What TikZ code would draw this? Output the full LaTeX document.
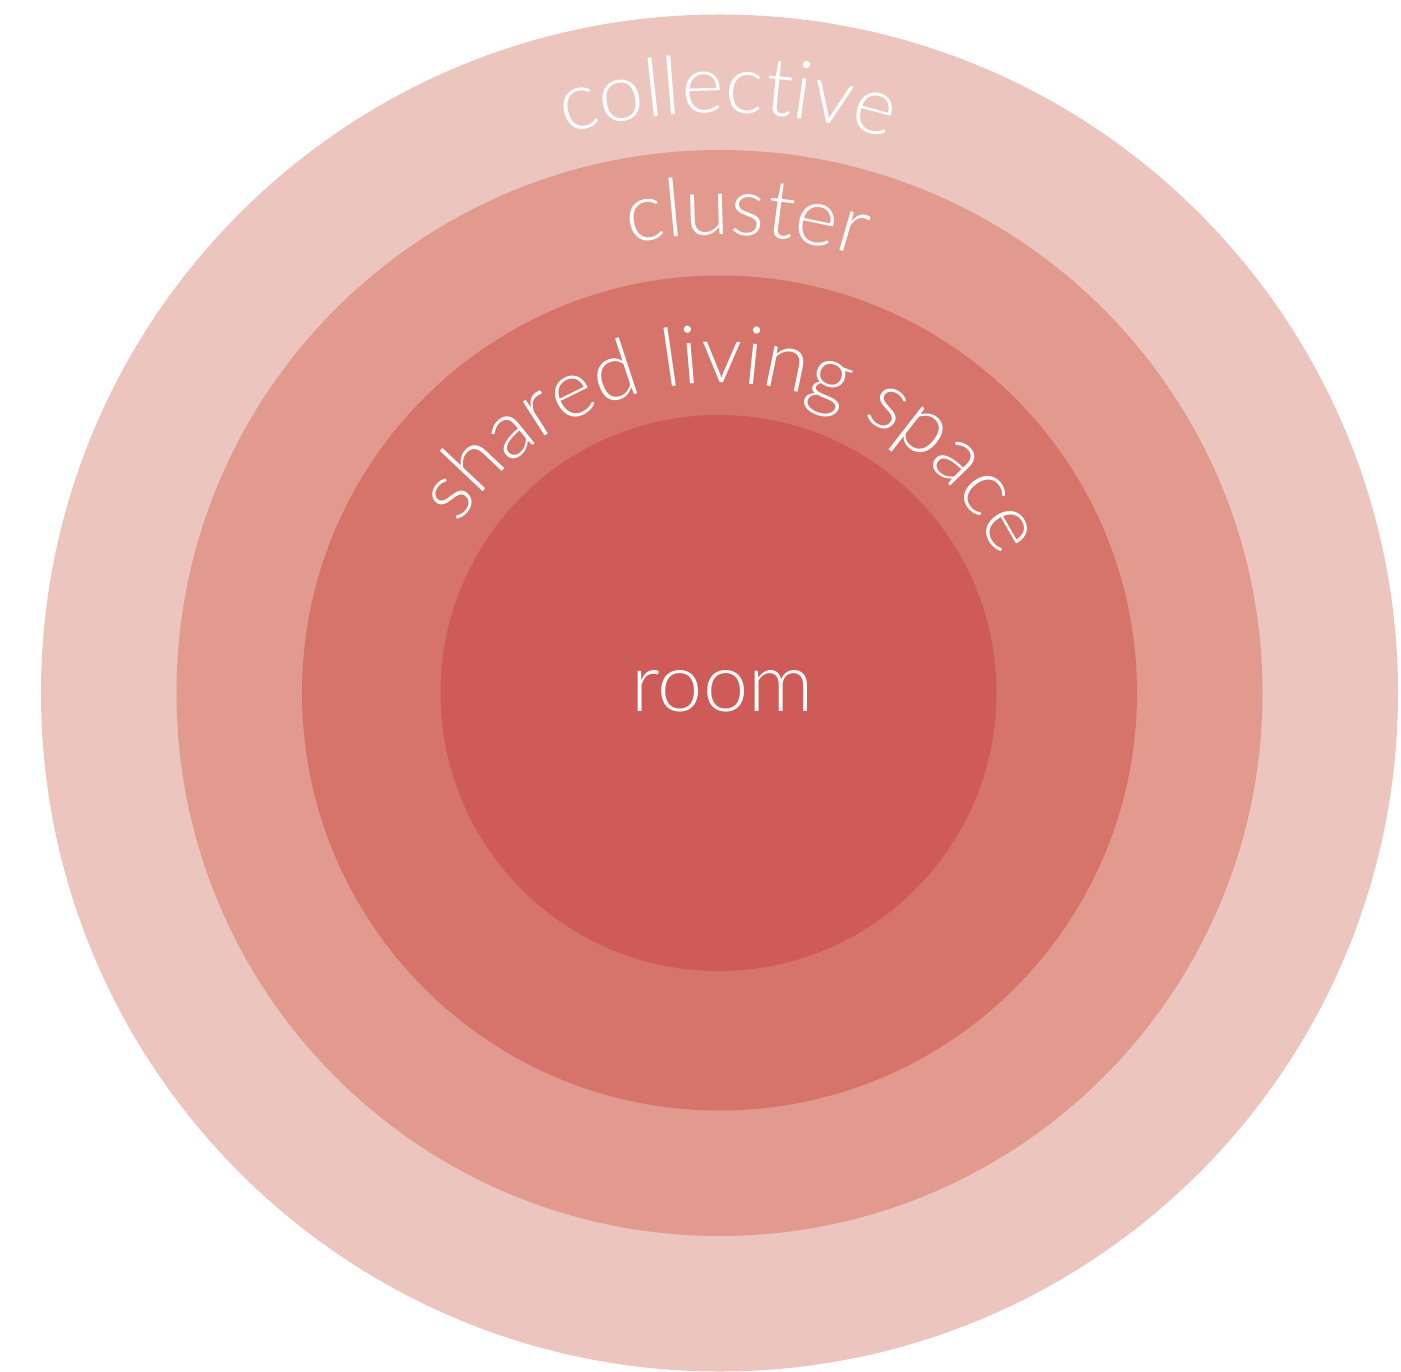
\documentclass[tikz,border=0pt]{standalone}
\usepackage{fontspec}
\usetikzlibrary{decorations.text}
\IfFontExistsTF{Lato Light}{\newfontfamily\lblfont{Lato Light}}{%
  \IfFontExistsTF{Fira Sans Light}{\newfontfamily\lblfont{Fira Sans Light}}{%
    \IfFontExistsTF{Open Sans Light}{\newfontfamily\lblfont{Open Sans Light}}{\newfontfamily\lblfont{Lato}}}}
\definecolor{ringA}{HTML}{ECC5BE}
\definecolor{ringB}{HTML}{E29A8F}
\definecolor{ringC}{HTML}{D6746C}
\definecolor{ringD}{HTML}{CE5B57}
\newcommand{\lblsize}{\fontsize{40.5}{44}\selectfont}
\tikzset{
  arclabel/.style={decorate, decoration={text along path, text align=center, text color=white, text={|\lblfont\lblsize|#1}}},
}
\begin{document}
\begin{tikzpicture}[x=0.5pt,y=0.5pt]
  % image px: centre (719.5,693), size 1401x1371
  \useasboundingbox (-719.5,-678) rectangle (681.5,693);
  \fill[ringA] (0,0) circle[radius=678.5];
  \fill[ringB] (0,0) circle[radius=543];
  \fill[ringC] (0,0) circle[radius=417.5];
  \fill[ringD] (-1,0) circle[radius=278];
  \path[arclabel=collective] (149.2:580) arc[start angle=149.2, end angle=29.2, radius=580];
  \path[arclabel=cluster] (146.7:458) arc[start angle=146.7, end angle=26.7, radius=458];
  \path[arclabel={shared living space}] (171.5:310) arc[start angle=171.5, end angle=1.5, radius=310];
  \node[text=white, font=\lblfont\lblsize, anchor=base, inner sep=0pt] (room) at (3,-18) {room};
\end{tikzpicture}
\end{document}
